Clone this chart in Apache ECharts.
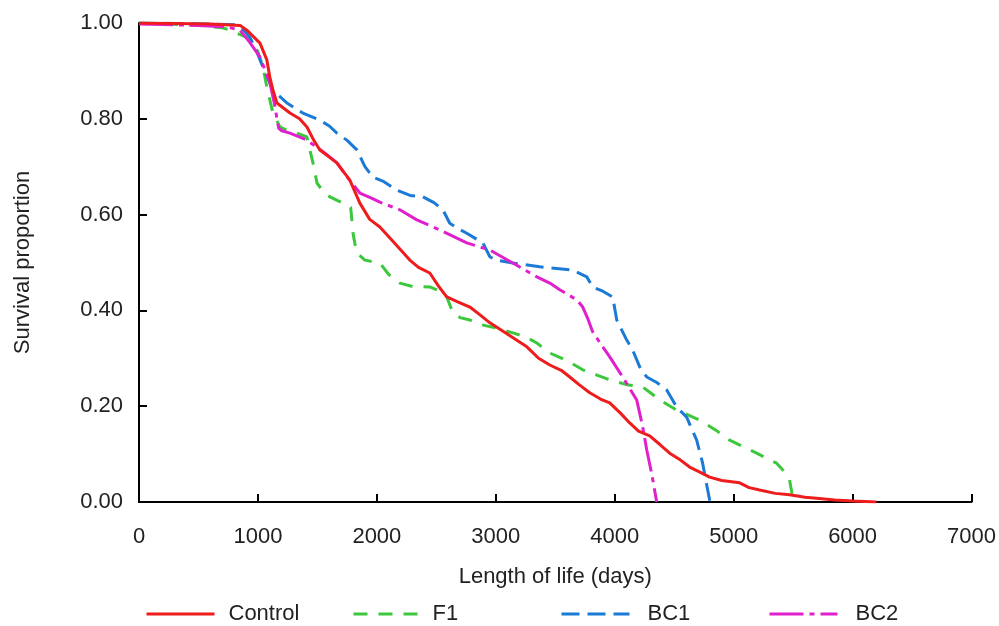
<!DOCTYPE html>
<html>
<head>
<meta charset="utf-8">
<script src="https://cdn.jsdelivr.net/npm/echarts@6/dist/echarts.min.js"></script>
<style>
html, body { margin: 0; padding: 0; background: #fff; }
#chart { width: 999px; height: 626px; }
</style>
</head>
<body>
<div id="chart"></div>
<script>
// survival curves, [days, proportion]
const control = [[0,1],[600,0.998],[850,0.995],[907,0.985],[960,0.972],[1017,0.958],[1075,0.923],[1100,0.887],[1126,0.86],[1160,0.833],[1269,0.812],[1350,0.8],[1412,0.783],[1470,0.755],[1521,0.735],[1600,0.72],[1664,0.708],[1773,0.672],[1857,0.624],[1940,0.59],[2025,0.574],[2150,0.54],[2277,0.505],[2350,0.49],[2445,0.478],[2520,0.45],[2588,0.428],[2680,0.418],[2782,0.407],[2870,0.39],[2950,0.374],[3100,0.35],[3261,0.324],[3360,0.3],[3454,0.286],[3550,0.275],[3622,0.261],[3700,0.245],[3790,0.228],[3880,0.215],[3958,0.207],[4050,0.185],[4126,0.165],[4200,0.148],[4294,0.138],[4380,0.12],[4462,0.102],[4550,0.088],[4630,0.073],[4720,0.062],[4798,0.052],[4900,0.045],[5050,0.04],[5130,0.03],[5218,0.025],[5350,0.018],[5470,0.015],[5600,0.01],[5697,0.008],[5850,0.004],[6000,0.002],[6200,0]];
const f1 = [[0,1],[500,0.995],[700,0.99],[765,0.985],[907,0.97],[1000,0.94],[1042,0.908],[1075,0.866],[1126,0.812],[1185,0.783],[1250,0.775],[1328,0.77],[1412,0.762],[1437,0.735],[1470,0.7],[1496,0.666],[1550,0.648],[1605,0.637],[1714,0.624],[1780,0.615],[1800,0.56],[1830,0.52],[1900,0.505],[2025,0.499],[2100,0.475],[2193,0.457],[2300,0.45],[2445,0.449],[2530,0.44],[2588,0.428],[2639,0.395],[2700,0.385],[2782,0.38],[2880,0.37],[2975,0.365],[3143,0.353],[3250,0.345],[3345,0.332],[3454,0.311],[3600,0.295],[3731,0.276],[3850,0.265],[3958,0.255],[4100,0.245],[4235,0.24],[4300,0.228],[4378,0.213],[4521,0.192],[4714,0.171],[4850,0.15],[4966,0.129],[5193,0.102],[5361,0.081],[5420,0.065],[5470,0.046],[5496,0.01],[5500,0]];
const bc1 = [[0,1],[600,0.998],[823,0.996],[880,0.985],[933,0.97],[990,0.94],[1042,0.908],[1126,0.86],[1244,0.833],[1378,0.812],[1521,0.797],[1600,0.785],[1664,0.77],[1750,0.755],[1832,0.735],[1900,0.7],[1966,0.678],[2050,0.67],[2168,0.651],[2280,0.64],[2387,0.637],[2480,0.625],[2555,0.61],[2613,0.582],[2690,0.57],[2756,0.561],[2891,0.541],[2950,0.512],[3000,0.505],[3143,0.499],[3370,0.491],[3647,0.484],[3765,0.47],[3815,0.449],[3900,0.44],[3983,0.428],[4017,0.38],[4101,0.338],[4151,0.317],[4210,0.282],[4269,0.261],[4350,0.25],[4437,0.234],[4521,0.198],[4605,0.177],[4689,0.129],[4739,0.081],[4770,0.04],[4798,0.004],[4800,0]];
const bc2 = [[0,0.998],[500,0.995],[739,0.992],[849,0.985],[930,0.96],[1017,0.929],[1101,0.875],[1140,0.83],[1160,0.8],[1175,0.78],[1200,0.775],[1269,0.77],[1400,0.757],[1496,0.741],[1580,0.725],[1664,0.708],[1760,0.675],[1857,0.645],[1950,0.635],[2025,0.626],[2193,0.61],[2336,0.589],[2529,0.568],[2756,0.541],[2950,0.526],[3143,0.499],[3345,0.47],[3454,0.457],[3538,0.443],[3681,0.422],[3731,0.407],[3770,0.385],[3815,0.355],[3899,0.324],[3958,0.303],[4067,0.261],[4185,0.213],[4235,0.157],[4269,0.109],[4310,0.06],[4353,0]];

const seriesNames = ["Control", "F1", "BC1", "BC2"];
const seriesData = [control, f1, bc1, bc2];
const colors = ["#ee1c1c", "#3cc83c", "#1b7ad6", "#e020cc"];
const dashes = ["solid", [14, 11], [18, 8], [34, 6, 5, 6]];
const legendLeft = [140, 347, 555, 763];
const legendTextPad = [9, 6, 13, 13];

const font = "'Liberation Sans', Arial, sans-serif";
const chart = echarts.init(document.getElementById("chart"));

const option = {
	animation: false,
	textStyle: { fontFamily: font },
	grid: { left: 139, right: 27, top: 23, bottom: 124 },
	legend: seriesNames.map((n, i) => ({
		data: [n],
		left: legendLeft[i],
		top: 598,
		itemWidth: 68,
		itemHeight: 14,
		itemStyle: { opacity: 0 },
		lineStyle: { width: 3 },
		textStyle: { fontSize: 22, color: "#222", fontFamily: font, padding: [0, 0, 0, legendTextPad[i]] }
	})),
	xAxis: {
		type: "value",
		min: 0,
		max: 7000,
		interval: 1000,
		name: "Length of life (days)",
		nameLocation: "middle",
		nameGap: 64,
		nameTextStyle: { fontSize: 22, color: "#222" },
		axisLine: { lineStyle: { color: "#000", width: 2 } },
		axisTick: { inside: true, length: 8, lineStyle: { color: "#000", width: 2 } },
		axisLabel: { fontSize: 22, color: "#222", margin: 24, formatter: v => String(v) },
		splitLine: { show: false }
	},
	yAxis: {
		type: "value",
		min: 0,
		max: 1,
		interval: 0.2,
		name: "Survival proportion",
		nameLocation: "middle",
		nameGap: 105,
		nameTextStyle: { fontSize: 22, color: "#222" },
		axisLine: { show: true, lineStyle: { color: "#000", width: 2 } },
		axisTick: { show: true, inside: true, length: 8, lineStyle: { color: "#000", width: 2 } },
		axisLabel: { fontSize: 22, color: "#222", margin: 16, formatter: v => v.toFixed(2) },
		splitLine: { show: false }
	},
	series: seriesNames.map((n, i) => ({
		name: n,
		type: "line",
		data: seriesData[i],
		showSymbol: false,
		symbol: "none",
		color: colors[i],
		lineStyle: { color: colors[i], width: 3, type: dashes[i] },
		z: i === 0 ? 5 : 3
	}))
};
chart.setOption(option);
</script>
</body>
</html>
